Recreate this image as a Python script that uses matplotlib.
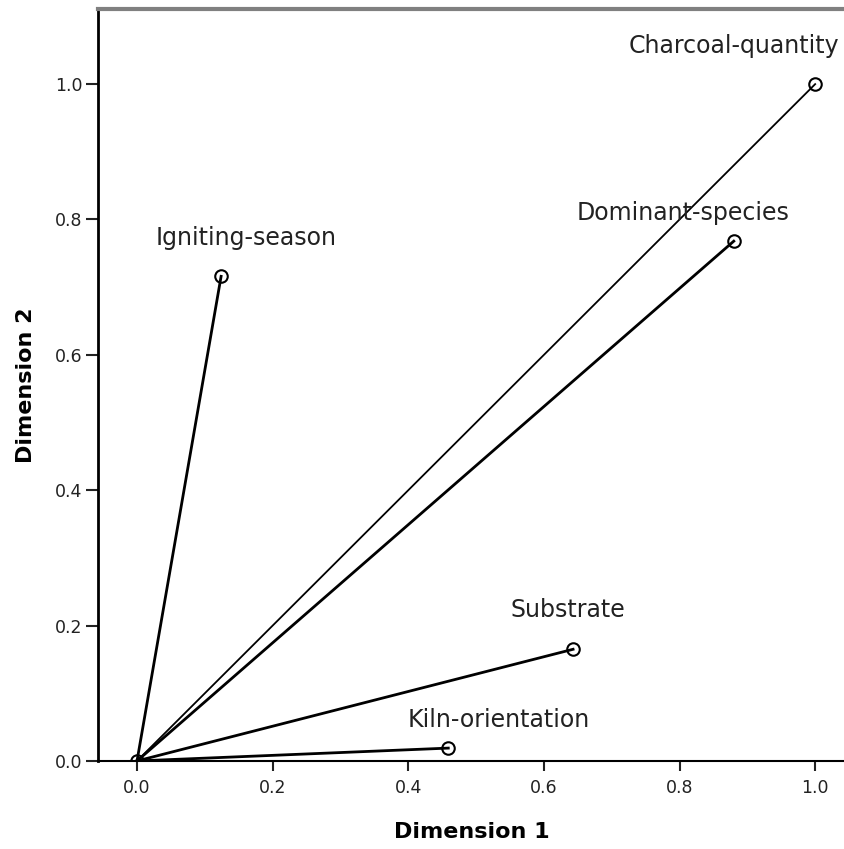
import matplotlib
matplotlib.use("Agg")
import matplotlib.pyplot as plt

# discrimination measures / loadings
variables = ["Charcoal-quantity", "Dominant-species", "Igniting-season", "Substrate", "Kiln-orientation"]
dim1 = [1.0, 0.880, 0.124, 0.643, 0.459]
dim2 = [1.0, 0.768, 0.716, 0.165, 0.019]
xticks = [0.0, 0.2, 0.4, 0.6, 0.8, 1.0]
yticks = [0.0, 0.2, 0.4, 0.6, 0.8, 1.0]

# label offsets in pixels (dx, dy) relative to the point
label_off = [(-81, 38), (-51, 28), (25, 38), (-5, 39), (50, 28)]
line_w = [1.3, 2.0, 2.0, 2.0, 2.0]

fig = plt.figure(figsize=(8.45, 8.49), dpi=100)
ax = fig.add_axes([0.116, 0.1037, 0.884, 0.8857])

for name, x, y, (dx, dy), lw in zip(variables, dim1, dim2, label_off, line_w):
    ax.plot([0, x], [0, y], color="black", lw=lw, zorder=2)
    ax.plot(x, y, "o", ms=9, mfc="none", mec="black", mew=1.5, zorder=3)
    ax.annotate(name, (x, y), xytext=(dx * 0.72, dy * 0.72), textcoords="offset points",
                ha="center", va="center", fontsize=17, color="#222222")

ax.plot(0, 0, "o", ms=9, mfc="none", mec="black", mew=1.5, zorder=3)

ax.set_xlim(-0.0575, 1.044)
ax.set_ylim(0.0, 1.111)
ax.set_xticks(xticks)
ax.set_yticks(yticks)
ax.set_xticklabels(["%.1f" % v for v in xticks])
ax.set_yticklabels(["%.1f" % v for v in yticks])
ax.tick_params(axis="both", labelsize=12.5, colors="#222222", width=1.5)
ax.tick_params(axis="x", length=7, pad=6)
ax.tick_params(axis="y", length=9, pad=2)

ax.spines["right"].set_visible(False)
ax.spines["top"].set_color("#808080")
ax.spines["top"].set_linewidth(3)
ax.spines["left"].set_linewidth(2)
ax.spines["bottom"].set_linewidth(1.5)

ax.set_xlabel("Dimension 1", fontsize=16, fontweight="bold", labelpad=18)
ax.set_ylabel("Dimension 2", fontsize=16, fontweight="bold", labelpad=14)

fig.savefig("out.png", dpi=100)
